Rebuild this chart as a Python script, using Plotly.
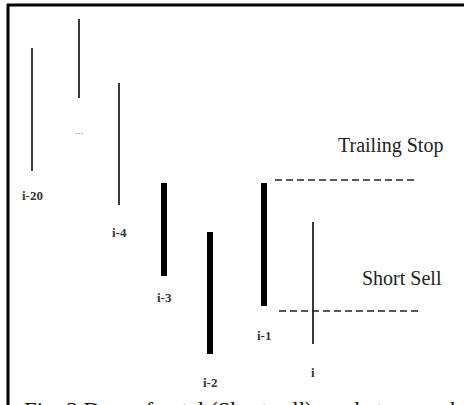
import plotly.graph_objects as go

# ---- data (price scale arbitrary) ----
labels = ["i-20", "…", "i-4", "i-3", "i-2", "i-1", "i"]
bar_x = [32, 79, 119, 164, 210, 264, 313]
highs = [357, 386, 322, 222, 173, 222, 183]
lows = [234, 307, 200, 129, 51, 99, 61]
thick = [False, False, False, True, True, True, False]

trailing_stop = 225
trailing_x = [275, 414]
short_sell = 94
short_x = [279, 422]

caption = "Fig. 3 Down fractal (Short sell) market example"

# ---- style ----
label_offset = [24, 32, 27, 21, 28, 29, 28]
SERIF = "Liberation Serif, Times New Roman, serif"

fig = go.Figure()

for is_thick, color, width in [(False, "#3a3a3a", 2), (True, "#000000", 6)]:
    xs, ys = [], []
    for x, h, l, t in zip(bar_x, highs, lows, thick):
        if t == is_thick:
            xs += [x, x, None]
            ys += [l, h, None]
    fig.add_trace(go.Scatter(x=xs, y=ys, mode="lines",
                             line=dict(color=color, width=width),
                             hoverinfo="skip", showlegend=False))

for level, xr in [(trailing_stop, trailing_x), (short_sell, short_x)]:
    fig.add_trace(go.Scatter(x=xr, y=[level, level], mode="lines",
                             line=dict(color="#222222", width=1.5, dash="7px,4px"),
                             hoverinfo="skip", showlegend=False))

for lab, x, l, off in zip(labels, bar_x, lows, label_offset):
    dots = lab == "…"
    fig.add_annotation(x=x, y=l - off, text="<b>" + lab + "</b>" if not dots else "...",
                       showarrow=False, xanchor="center", yanchor="middle",
                       font=dict(family=SERIF, size=13 if not dots else 11,
                                 color="#333333" if not dots else "#888888"),
                       )

fig.add_annotation(x=390, y=405 - 145, text="Trailing Stop", showarrow=False,
                   xanchor="center", yanchor="middle",
                   font=dict(family=SERIF, size=20, color="#222222"))
fig.add_annotation(x=402, y=405 - 278, text="Short Sell", showarrow=False,
                   xanchor="center", yanchor="middle",
                   font=dict(family=SERIF, size=20, color="#222222"))

fig.add_annotation(x=22 / 464, y=-5 / 405, xref="paper", yref="paper",
                   text=caption, showarrow=False,
                   xanchor="left", yanchor="middle",
                   font=dict(family=SERIF, size=23, color="#111111"))

# frame (left and top borders)
fig.add_shape(type="line", x0=8, x1=8, y0=405 - 4, y1=-20,
              line=dict(color="#000000", width=3))
fig.add_shape(type="line", x0=7, x1=480, y0=405 - 5, y1=405 - 5,
              line=dict(color="#000000", width=3))

fig.update_xaxes(range=[0, 464], visible=False, fixedrange=True)
fig.update_yaxes(range=[0, 405], visible=False, fixedrange=True)
fig.update_layout(width=464, height=405, margin=dict(l=0, r=0, t=0, b=0),
                  plot_bgcolor="white", paper_bgcolor="white")

fig.write_html("out.html", config={"displayModeBar": False},
               post_script="document.body.style.margin='0';document.body.style.overflow='hidden';")
